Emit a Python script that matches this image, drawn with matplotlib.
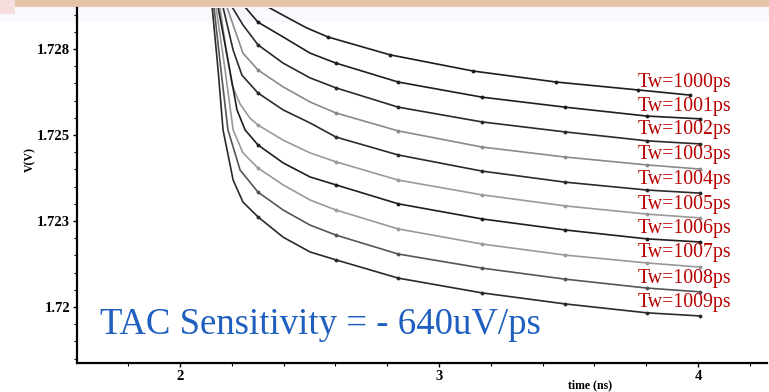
import matplotlib
matplotlib.use("Agg")
import matplotlib.pyplot as plt
from matplotlib.patches import Rectangle
from matplotlib.ticker import FixedLocator, FixedFormatter, MultipleLocator

# transient sweep, one trace per Tw (time in ns, voltage in V)
t_1000 = [2.317, 2.340, 2.425, 2.490, 2.571, 2.811, 3.131, 3.452, 3.768, 3.969]
v_1000 = [1.72907, 1.72872, 1.72837, 1.72811, 1.72785, 1.72733, 1.72686, 1.72654, 1.72631, 1.72616]

t_1001 = [2.236, 2.251, 2.301, 2.398, 2.502, 2.602, 2.842, 3.166, 3.486, 3.803, 4.008]
v_1001 = [1.72907, 1.72872, 1.72828, 1.72785, 1.72738, 1.72709, 1.72654, 1.72610, 1.72581, 1.72555, 1.72547]

t_1002 = [2.189, 2.201, 2.243, 2.301, 2.398, 2.502, 2.602, 2.842, 3.166, 3.486, 3.803, 4.008]
v_1002 = [1.72907, 1.72872, 1.72820, 1.72762, 1.72709, 1.72666, 1.72637, 1.72581, 1.72538, 1.72509, 1.72483, 1.72474]

t_1003 = [2.174, 2.181, 2.212, 2.243, 2.301, 2.398, 2.502, 2.602, 2.842, 3.166, 3.486, 3.803, 4.008]
v_1003 = [1.72907, 1.72872, 1.72805, 1.72738, 1.72689, 1.72640, 1.72596, 1.72564, 1.72512, 1.72465, 1.72436, 1.72413, 1.72401]

t_1004 = [2.162, 2.166, 2.205, 2.239, 2.301, 2.398, 2.502, 2.602, 2.842, 3.166, 3.486, 3.803, 4.008]
v_1004 = [1.72907, 1.72872, 1.72747, 1.72674, 1.72622, 1.72573, 1.72535, 1.72494, 1.72442, 1.72395, 1.72363, 1.72340, 1.72331]

t_1005 = [2.151, 2.154, 2.178, 2.201, 2.232, 2.270, 2.301, 2.398, 2.502, 2.602, 2.842, 3.166, 3.486, 3.803, 4.008]
v_1005 = [1.72907, 1.72872, 1.72747, 1.72645, 1.72590, 1.72549, 1.72529, 1.72485, 1.72448, 1.72422, 1.72369, 1.72326, 1.72294, 1.72270, 1.72259]

t_1006 = [2.143, 2.147, 2.185, 2.220, 2.251, 2.301, 2.398, 2.502, 2.602, 2.842, 3.166, 3.486, 3.803, 4.008]
v_1006 = [1.72907, 1.72872, 1.72718, 1.72573, 1.72515, 1.72471, 1.72419, 1.72378, 1.72355, 1.72300, 1.72256, 1.72224, 1.72198, 1.72189]

t_1007 = [2.135, 2.139, 2.174, 2.205, 2.243, 2.301, 2.398, 2.502, 2.602, 2.842, 3.166, 3.486, 3.803, 4.008]
v_1007 = [1.72907, 1.72872, 1.72689, 1.72515, 1.72448, 1.72404, 1.72355, 1.72311, 1.72282, 1.72227, 1.72183, 1.72151, 1.72128, 1.72116]

t_1008 = [2.127, 2.131, 2.158, 2.185, 2.232, 2.301, 2.398, 2.502, 2.602, 2.842, 3.166, 3.486, 3.803, 4.008]
v_1008 = [1.72907, 1.72872, 1.72689, 1.72515, 1.72398, 1.72334, 1.72282, 1.72238, 1.72209, 1.72154, 1.72113, 1.72081, 1.72055, 1.72044]

t_1009 = [2.120, 2.124, 2.147, 2.166, 2.205, 2.243, 2.301, 2.398, 2.502, 2.602, 2.842, 3.166, 3.486, 3.803, 4.008]
v_1009 = [1.72907, 1.72872, 1.72689, 1.72515, 1.72369, 1.72305, 1.72262, 1.72203, 1.72160, 1.72137, 1.72084, 1.72041, 1.72009, 1.71983, 1.71974]

# simulator time points that carry a dot
steps_1000 = [2.571, 2.811, 3.131, 3.452, 3.768, 3.969]
steps = [2.301, 2.602, 2.842, 3.166, 3.486, 3.803, 4.008]

labels = ["Tw=1000ps", "Tw=1001ps", "Tw=1002ps", "Tw=1003ps", "Tw=1004ps",
          "Tw=1005ps", "Tw=1006ps", "Tw=1007ps", "Tw=1008ps", "Tw=1009ps"]

y_ticks = [1.7275, 1.725, 1.7225, 1.72]
y_ticklabels = ["1.728", "1.725", "1.723", "1.72"]
x_ticks = [2, 3, 4]

traces = [(t_1000, v_1000), (t_1001, v_1001), (t_1002, v_1002), (t_1003, v_1003),
          (t_1004, v_1004), (t_1005, v_1005), (t_1006, v_1006), (t_1007, v_1007),
          (t_1008, v_1008), (t_1009, v_1009)]
colors = ["#1e1e1e", "#1e1e1e", "#2a2a2a", "#8a8a8a", "#2a2a2a",
          "#9a9a9a", "#1e1e1e", "#999999", "#555555", "#2a2a2a"]

serif = "Liberation Serif"

fig = plt.figure(figsize=(7.69, 3.92), dpi=100, facecolor="white")

# header band of the slide (behind the axes)
fig.patches.append(Rectangle((0, 1 - 22 / 392), 1, 15 / 392, transform=fig.transFigure,
                             facecolor="#f7f9fc", edgecolor="none", zorder=0))
fig.patches.append(Rectangle((15 / 769, 1 - 7 / 392), 1, 7 / 392, transform=fig.transFigure,
                             facecolor="#e6c2a6", edgecolor="none", zorder=0))
fig.patches.append(Rectangle((0, 1 - 14 / 392), 15 / 769, 14 / 392, transform=fig.transFigure,
                             facecolor="#f6dede", edgecolor="none", zorder=0))

ax = fig.add_axes([77 / 769, 1 - 363 / 392, 690 / 769, 355 / 392])
ax.set_zorder(2)
ax.patch.set_alpha(0)

for i, (t, v) in enumerate(traces):
    marks = steps_1000 if i == 0 else steps
    idx = [k for k, tk in enumerate(t) if any(abs(tk - s) < 1e-6 for s in marks)]
    ax.plot(t, v, color=colors[i], lw=1.2, marker="o", ms=1.8, markevery=idx)

ax.set_xlim(1.6023, 4.266)
ax.set_ylim(1.718372, 1.728692)

for s in ["top", "right"]:
    ax.spines[s].set_visible(False)
for s in ["left", "bottom"]:
    ax.spines[s].set_linewidth(1.6)

ax.xaxis.set_major_locator(FixedLocator(x_ticks))
ax.xaxis.set_minor_locator(MultipleLocator(0.2))
ax.yaxis.set_major_locator(FixedLocator(y_ticks))
ax.yaxis.set_major_formatter(FixedFormatter(y_ticklabels))
ax.yaxis.set_minor_locator(MultipleLocator(0.0005))
ax.tick_params(which="major", length=3, width=1, labelsize=10.5, pad=2)
ax.tick_params(which="minor", length=2, width=0.8)
for lab in ax.get_xticklabels() + ax.get_yticklabels():
    lab.set_fontfamily(serif)
    lab.set_fontweight("bold")

# curve labels
label_py = [82, 107, 130, 155, 180, 205, 229, 253, 278, 302]
for lab, py in zip(labels, label_py):
    ax.text((638 - 77) / 690, (363 - py) / 355, lab, transform=ax.transAxes,
            fontsize=14.3, family=serif, color="#b80000", va="center", ha="left")

ax.text(23 / 690, 38 / 355, "TAC Sensitivity = - 640uV/ps", transform=ax.transAxes,
        fontsize=26.5, family=serif, color="#1f5fc0", va="center", ha="left")

fig.text(30 / 769, 1 - 160 / 392, "V(V)", rotation=90, fontsize=8.5, family=serif,
         fontweight="bold", va="center", ha="center")
fig.text(590 / 769, 1 - 385 / 392, "time (ns)", fontsize=8.5, family=serif,
         fontweight="bold", va="center", ha="center")

fig.savefig("out.png", dpi=100)
